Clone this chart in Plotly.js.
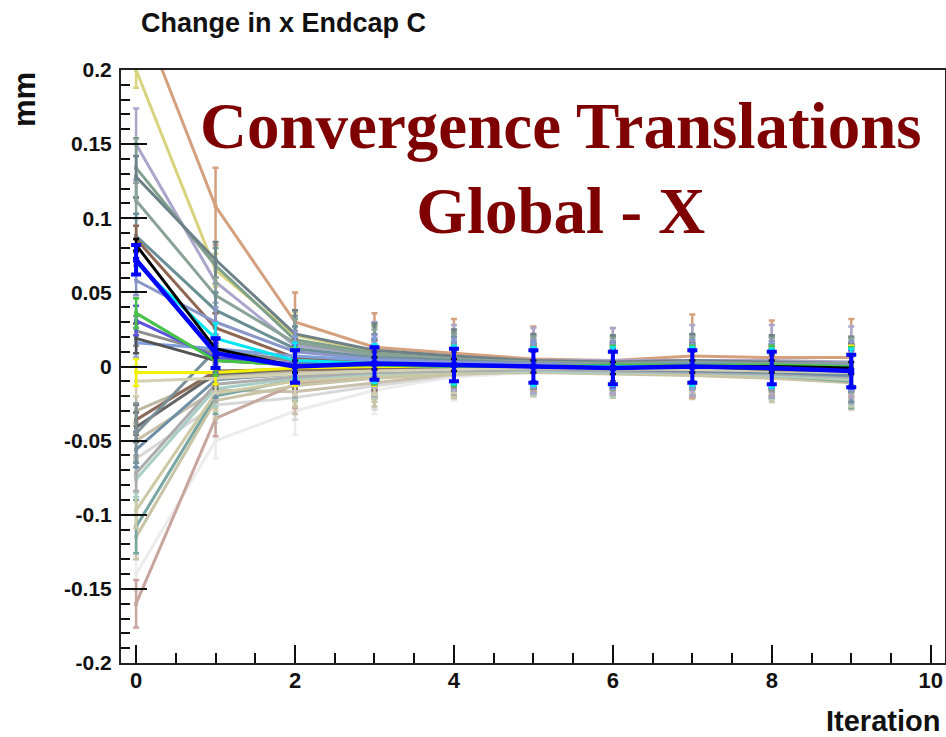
<!DOCTYPE html>
<html>
<head>
<meta charset="utf-8">
<script src="https://cdn.plot.ly/plotly-3.0.1.min.js"></script>
<style>html,body{margin:0;padding:0;background:#fff;}#chart{width:946px;height:737px;}</style>
</head>
<body>
<div id="chart"></div>
<script>
// ---- data ----
const iterations = [0, 1, 2, 3, 4, 5, 6, 7, 8, 9];
const yTickVals = [-0.2, -0.15, -0.1, -0.05, 0, 0.05, 0.1, 0.15, 0.2];
const yTickText = ["-0.2", "-0.15", "-0.1", "-0.05", "0", "0.05", "0.1", "0.15", "0.2"];
const xTickVals = [0, 2, 4, 6, 8, 10];
const xTickText = ["0", "2", "4", "6", "8", "10"];

// values per series (mm) at each iteration, and their errors
const v_verylight = [-0.140, -0.050, -0.030, -0.016, -0.007, -0.004, -0.004, -0.005, -0.006, -0.008];
const e_verylight = [0.012, 0.012, 0.016, 0.016, 0.016, 0.016, 0.016, 0.016, 0.016, 0.016];
const v_lightgrey2 = [-0.062, -0.026, -0.021, -0.013, -0.006, -0.003, -0.003, -0.004, -0.005, -0.006];
const e_lightgrey2 = [0.012, 0.012, 0.015, 0.016, 0.016, 0.016, 0.016, 0.016, 0.016, 0.018];
const v_beige2 = [-0.050, -0.016, -0.017, -0.011, -0.005, -0.003, -0.003, -0.003, -0.004, -0.005];
const e_beige2 = [0.012, 0.012, 0.015, 0.016, 0.016, 0.016, 0.016, 0.016, 0.016, 0.018];
const v_pinkbrown = [-0.160, -0.035, -0.012, -0.006, -0.003, -0.002, -0.002, -0.003, -0.004, -0.005];
const e_pinkbrown = [0.016, 0.012, 0.016, 0.016, 0.016, 0.016, 0.016, 0.016, 0.016, 0.018];
const v_khaki4 = [-0.115, -0.023, -0.013, -0.008, -0.005, -0.004, -0.005, -0.006, -0.008, -0.011];
const e_khaki4 = [0.015, 0.012, 0.014, 0.016, 0.016, 0.016, 0.016, 0.016, 0.016, 0.018];
const v_teal = [-0.108, -0.020, -0.009, -0.005, -0.003, -0.002, -0.003, -0.004, -0.006, -0.010];
const e_teal = [0.018, 0.012, 0.014, 0.016, 0.016, 0.016, 0.016, 0.016, 0.016, 0.018];
const v_khaki3 = [-0.097, -0.018, -0.010, -0.006, -0.004, -0.003, -0.004, -0.005, -0.006, -0.009];
const e_khaki3 = [0.012, 0.012, 0.014, 0.016, 0.016, 0.016, 0.016, 0.016, 0.016, 0.018];
const v_paleteal = [-0.076, -0.015, -0.008, -0.005, -0.003, -0.003, -0.004, -0.004, -0.006, -0.008];
const e_paleteal = [0.012, 0.012, 0.014, 0.016, 0.016, 0.016, 0.016, 0.016, 0.016, 0.018];
const v_lightgrey = [-0.072, -0.012, -0.007, -0.004, -0.003, -0.002, -0.003, -0.004, -0.005, -0.007];
const e_lightgrey = [0.012, 0.012, 0.014, 0.016, 0.016, 0.016, 0.016, 0.016, 0.016, 0.018];
const v_bluegrey = [-0.056, -0.009, -0.005, -0.003, -0.002, -0.001, -0.002, -0.003, -0.004, -0.006];
const e_bluegrey = [0.012, 0.012, 0.014, 0.016, 0.016, 0.016, 0.016, 0.016, 0.016, 0.018];
const v_beige = [-0.030, -0.007, -0.004, -0.002, -0.001, -0.001, -0.002, -0.002, -0.003, -0.004];
const e_beige = [0.010, 0.010, 0.014, 0.016, 0.016, 0.016, 0.016, 0.016, 0.016, 0.016];
const v_darkgrey2 = [-0.041, -0.005, -0.002, -0.001, -0.001, 0.000, 0.000, 0.000, 0.000, -0.001];
const e_darkgrey2 = [0.010, 0.010, 0.013, 0.015, 0.015, 0.015, 0.015, 0.015, 0.015, 0.015];
const v_brown2 = [-0.036, -0.003, -0.002, -0.001, 0.000, 0.000, 0.000, 0.000, -0.001, -0.001];
const e_brown2 = [0.010, 0.010, 0.013, 0.015, 0.015, 0.015, 0.015, 0.015, 0.015, 0.015];
const v_tealgrey2 = [-0.045, 0.011, 0.004, 0.002, 0.001, 0.000, 0.000, 0.000, -0.001, -0.002];
const e_tealgrey2 = [0.020, 0.010, 0.014, 0.016, 0.016, 0.016, 0.016, 0.016, 0.016, 0.016];
const v_palekhaki = [-0.010, -0.008, -0.005, -0.003, -0.002, -0.001, -0.001, -0.002, -0.003, -0.004];
const e_palekhaki = [0.010, 0.010, 0.014, 0.016, 0.016, 0.016, 0.016, 0.016, 0.016, 0.016];
const v_khaki = [0.200, 0.065, 0.021, 0.010, 0.006, 0.004, 0.003, 0.003, 0.002, 0.002];
const e_khaki = [0.012, 0.011, 0.016, 0.018, 0.018, 0.017, 0.017, 0.018, 0.018, 0.018];
const v_tan = [0.245, 0.108, 0.030, 0.013, 0.009, 0.005, 0.004, 0.007, 0.006, 0.006];
const e_tan = [0.020, 0.026, 0.020, 0.023, 0.023, 0.022, 0.022, 0.028, 0.025, 0.026];
const v_lavender = [0.150, 0.057, 0.014, 0.008, 0.006, 0.004, 0.004, 0.004, 0.004, 0.003];
const e_lavender = [0.024, 0.014, 0.020, 0.022, 0.022, 0.022, 0.022, 0.024, 0.024, 0.024];
const v_sage = [0.134, 0.068, 0.018, 0.009, 0.005, 0.003, 0.002, 0.003, 0.002, 0.001];
const e_sage = [0.020, 0.012, 0.016, 0.018, 0.018, 0.018, 0.018, 0.018, 0.018, 0.018];
const v_slate = [0.128, 0.072, 0.022, 0.011, 0.007, 0.004, 0.003, 0.004, 0.003, 0.002];
const e_slate = [0.014, 0.012, 0.016, 0.018, 0.018, 0.018, 0.018, 0.018, 0.018, 0.018];
const v_greygreen = [0.112, 0.048, 0.016, 0.008, 0.005, 0.003, 0.002, 0.003, 0.002, 0.002];
const e_greygreen = [0.012, 0.012, 0.016, 0.017, 0.017, 0.017, 0.017, 0.017, 0.017, 0.017];
const v_tealgrey = [0.088, 0.038, 0.012, 0.006, 0.004, 0.002, 0.001, 0.002, 0.001, 0.000];
const e_tealgrey = [0.015, 0.012, 0.015, 0.016, 0.016, 0.016, 0.016, 0.016, 0.016, 0.016];
const v_brown = [0.086, 0.026, 0.006, 0.003, 0.002, 0.001, 0.001, 0.001, 0.000, 0.000];
const e_brown = [0.009, 0.010, 0.013, 0.015, 0.015, 0.015, 0.015, 0.015, 0.015, 0.015];
const v_periwinkle = [0.058, 0.030, 0.010, 0.005, 0.003, 0.002, 0.001, 0.002, 0.001, 0.001];
const e_periwinkle = [0.010, 0.010, 0.014, 0.016, 0.016, 0.016, 0.016, 0.016, 0.016, 0.016];
const v_grey = [0.024, 0.009, 0.004, 0.002, 0.001, 0.000, 0.000, 0.000, -0.001, -0.001];
const e_grey = [0.010, 0.010, 0.013, 0.015, 0.015, 0.015, 0.015, 0.015, 0.015, 0.015];
const v_lightblue = [0.016, 0.012, 0.007, 0.004, 0.002, 0.001, 0.000, 0.000, 0.000, -0.001];
const e_lightblue = [0.010, 0.010, 0.013, 0.015, 0.015, 0.015, 0.015, 0.015, 0.015, 0.015];
const v_darkgrey = [0.019, 0.004, 0.001, 0.000, 0.000, 0.000, 0.000, 0.000, -0.002, -0.003];
const e_darkgrey = [0.010, 0.010, 0.010, 0.010, 0.010, 0.010, 0.010, 0.010, 0.010, 0.010];
const v_yellow = [-0.004, -0.004, -0.001, 0.000, 0.000, 0.000, 0.000, 0.000, 0.000, 0.000];
const e_yellow = [0.009, 0.008, 0.012, 0.013, 0.013, 0.013, 0.013, 0.013, 0.013, 0.014];
const v_purpleblue = [0.031, 0.006, 0.002, 0.001, 0.000, 0.000, -0.001, 0.000, -0.001, -0.002];
const e_purpleblue = [0.010, 0.010, 0.012, 0.013, 0.013, 0.013, 0.013, 0.013, 0.013, 0.013];
const v_green = [0.036, 0.004, 0.001, 0.001, 0.000, 0.000, 0.001, 0.001, 0.001, 0.000];
const e_green = [0.010, 0.010, 0.012, 0.013, 0.013, 0.013, 0.013, 0.013, 0.013, 0.013];
const v_cyan = [0.070, 0.019, 0.004, 0.002, 0.001, 0.000, 0.000, 0.000, -0.001, -0.001];
const e_cyan = [0.008, 0.010, 0.012, 0.013, 0.013, 0.013, 0.013, 0.013, 0.013, 0.013];
const v_black = [0.082, 0.012, 0.000, 0.002, 0.001, 0.000, -0.001, 0.000, 0.000, -0.001];
const e_black = [0.004, 0.006, 0.004, 0.004, 0.004, 0.004, 0.004, 0.004, 0.004, 0.004];
const v_blue = [0.072, 0.009, 0.000, 0.002, 0.001, 0.000, -0.001, 0.000, -0.001, -0.003];
const e_blue = [0.010, 0.010, 0.011, 0.011, 0.011, 0.011, 0.011, 0.011, 0.011, 0.011];

// drawing order (back to front) with colours
const seriesNames = ["verylight", "lightgrey2", "beige2", "pinkbrown", "khaki4", "teal", "khaki3",
  "paleteal", "lightgrey", "bluegrey", "beige", "darkgrey2", "brown2", "tealgrey2", "palekhaki",
  "khaki", "tan", "lavender", "sage", "slate", "greygreen", "tealgrey", "brown", "periwinkle",
  "grey", "lightblue", "darkgrey", "yellow", "purpleblue", "green", "cyan", "black", "blue"];
const seriesColors = ["#ececec", "#d8d8d8", "#c8c0aa", "#c6a69e", "#c8c4a6", "#78a6a2", "#ccc9a4",
  "#a8cec6", "#acacac", "#6e8ea6", "#bcb8a4", "#666666", "#8c6a5a", "#7a9098", "#d4d0b4",
  "#d8d47e", "#d4a07e", "#aaa6cc", "#80a08e", "#6e8088", "#8aa298", "#6a9096", "#8e6652", "#8a96c8",
  "#8e8e8e", "#7e9ede", "#525252", "#f2f200", "#5c52de", "#46c246", "#00e6f2", "#000000", "#0000ff"];

const seriesValues = {
  verylight: v_verylight, lightgrey2: v_lightgrey2, beige2: v_beige2, pinkbrown: v_pinkbrown,
  khaki4: v_khaki4, teal: v_teal, khaki3: v_khaki3, paleteal: v_paleteal, lightgrey: v_lightgrey,
  bluegrey: v_bluegrey, beige: v_beige, darkgrey2: v_darkgrey2, brown2: v_brown2, tealgrey2: v_tealgrey2,
  palekhaki: v_palekhaki, khaki: v_khaki, tan: v_tan, lavender: v_lavender, sage: v_sage, slate: v_slate,
  greygreen: v_greygreen, tealgrey: v_tealgrey, brown: v_brown, periwinkle: v_periwinkle, grey: v_grey,
  lightblue: v_lightblue, darkgrey: v_darkgrey, yellow: v_yellow, purpleblue: v_purpleblue,
  green: v_green, cyan: v_cyan, black: v_black, blue: v_blue
};
const seriesErrors = {
  verylight: e_verylight, lightgrey2: e_lightgrey2, beige2: e_beige2, pinkbrown: e_pinkbrown,
  khaki4: e_khaki4, teal: e_teal, khaki3: e_khaki3, paleteal: e_paleteal, lightgrey: e_lightgrey,
  bluegrey: e_bluegrey, beige: e_beige, darkgrey2: e_darkgrey2, brown2: e_brown2, tealgrey2: e_tealgrey2,
  palekhaki: e_palekhaki, khaki: e_khaki, tan: e_tan, lavender: e_lavender, sage: e_sage, slate: e_slate,
  greygreen: e_greygreen, tealgrey: e_tealgrey, brown: e_brown, periwinkle: e_periwinkle, grey: e_grey,
  lightblue: e_lightblue, darkgrey: e_darkgrey, yellow: e_yellow, purpleblue: e_purpleblue,
  green: e_green, cyan: e_cyan, black: e_black, blue: e_blue
};

// ---- traces ----
const traces = seriesNames.map((name, i) => {
  const isBlue = name === "blue";
  const col = seriesColors[i];
  return {
    x: iterations,
    y: seriesValues[name],
    type: "scatter",
    mode: "lines+markers",
    name: name,
    showlegend: false,
    hoverinfo: "skip",
    line: { color: col, width: isBlue ? 4.5 : 3 },
    marker: { color: col, symbol: "square", size: isBlue ? 6 : 4 },
    error_y: { type: "data", array: seriesErrors[name], visible: true, color: col,
               thickness: isBlue ? 4 : 2.5, width: isBlue ? 5 : 3 },
    cliponaxis: true
  };
});

const px2paperX = p => (p - 121) / 824;
const px2paperY = p => (663 - p) / 593;
const boldSans = { family: "Liberation Sans, Arial, sans-serif", weight: "bold", color: "#111" };

const layout = {
  width: 946, height: 737,
  margin: { l: 121, r: 1, t: 70, b: 74, pad: 0 },
  paper_bgcolor: "#ffffff", plot_bgcolor: "#ffffff",
  showlegend: false,
  xaxis: {
    range: [-0.19, 10.18], tickmode: "array", tickvals: xTickVals, ticktext: xTickText,
    ticks: "inside", ticklen: 18, tickwidth: 2, tickcolor: "#111",
    minor: { dtick: 0.5, tick0: 0, ticks: "inside", ticklen: 10, tickwidth: 2, tickcolor: "#111" },
    showline: true, linewidth: 2, linecolor: "#222", mirror: true,
    showgrid: false, zeroline: false,
    tickfont: Object.assign({}, boldSans, { size: 22 }), ticklabelstandoff: -3
  },
  yaxis: {
    range: [-0.2, 0.2], tickmode: "array", tickvals: yTickVals, ticktext: yTickText,
    ticks: "inside", ticklen: 26, tickwidth: 2, tickcolor: "#111",
    minor: { dtick: 0.01, tick0: 0, ticks: "inside", ticklen: 9, tickwidth: 2, tickcolor: "#111" },
    showline: true, linewidth: 2, linecolor: "#222", mirror: true,
    showgrid: false, zeroline: false,
    tickfont: Object.assign({}, boldSans, { size: 21 }), ticklabelstandoff: 3
  },
  annotations: [
    { text: "Change in x Endcap C", xref: "paper", yref: "paper",
      x: px2paperX(139), y: px2paperY(23), xanchor: "left", yanchor: "middle",
      showarrow: false, font: Object.assign({}, boldSans, { size: 27 }) },
    { text: "mm", xref: "paper", yref: "paper", textangle: -90,
      x: px2paperX(24), y: px2paperY(100), xanchor: "center", yanchor: "middle",
      showarrow: false, font: Object.assign({}, boldSans, { size: 31 }) },
    { text: "Iteration", xref: "paper", yref: "paper",
      x: px2paperX(942), y: px2paperY(721), xanchor: "right", yanchor: "middle",
      showarrow: false, font: Object.assign({}, boldSans, { size: 29 }) },
    { text: "Convergence Translations<br>Global - X", xref: "paper", yref: "paper",
      x: px2paperX(561), y: px2paperY(88), xanchor: "center", yanchor: "top", align: "center",
      showarrow: false,
      font: { family: "Liberation Serif, Times New Roman, serif", weight: "bold", size: 65, color: "#7f0000" } }
  ]
};

Plotly.newPlot("chart", traces, layout, { staticPlot: true, displayModeBar: false });
</script>
</body>
</html>
